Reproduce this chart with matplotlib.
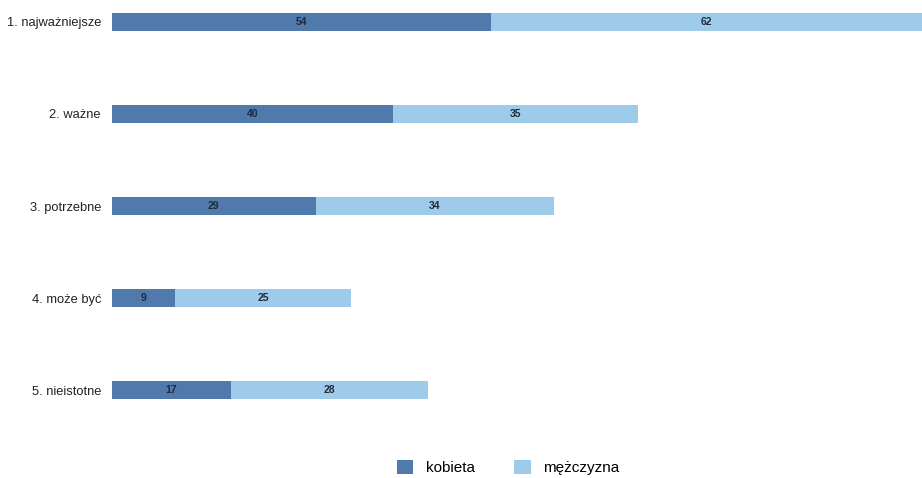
import matplotlib
matplotlib.use("Agg")
import matplotlib.pyplot as plt
import numpy as np

# dane
kategorie = ["1. najważniejsze", "2. ważne", "3. potrzebne", "4. może być", "5. nieistotne"]
kobieta = [54, 40, 29, 9, 17]
mezczyzna = [62, 35, 34, 25, 28]
serie = ["kobieta", "mężczyzna"]
kolory = ["#4f7aab", "#9fcbea"]

plt.rcParams['font.family'] = ['Liberation Sans', 'DejaVu Sans']

fig = plt.figure(figsize=(9.22, 4.78), dpi=100)
ax = fig.add_axes([0.1215, 0.165, 0.8785, 0.808])

y = np.arange(len(kategorie))
h = 0.196
b1 = ax.barh(y, kobieta, height=h, color=kolory[0], label=serie[0])
b2 = ax.barh(y, mezczyzna, left=kobieta, height=h, color=kolory[1], label=serie[1])

for bars in (b1, b2):
    ax.bar_label(bars, label_type='center', fontsize=7.5, fontweight='bold', color='#1f2a3c')

ax.set_xlim(0, 115.4)
ax.set_ylim(4 + h / 2, -h / 2)
ax.set_yticks(y)
ax.set_yticklabels(kategorie, fontsize=9.3, color='#222222')
ax.tick_params(axis='y', length=0, pad=8)
ax.set_xticks([])
for s in ax.spines.values():
    s.set_visible(False)

fig.legend(loc='center', bbox_to_anchor=(0.551, 0.022), ncol=2, frameon=False,
           fontsize=11, handlelength=1.1, handleheight=1.1, columnspacing=2.6,
           handletextpad=0.8)

fig.savefig("out.png", dpi=100)
